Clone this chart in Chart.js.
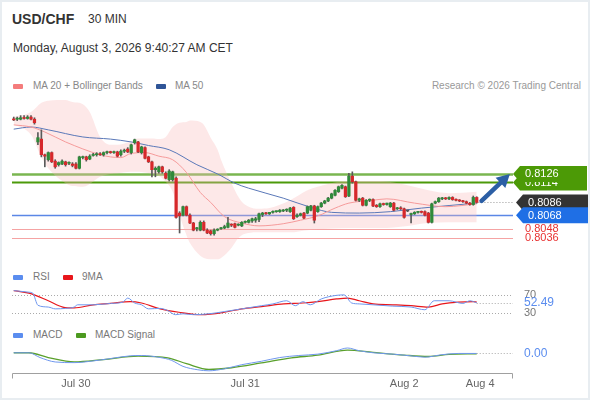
<!DOCTYPE html>
<html>
<head>
<meta charset="utf-8">
<script src="https://cdn.jsdelivr.net/npm/chart.js@4.4.1/dist/chart.umd.min.js"></script>
<style>
  html, body { margin: 0; padding: 0; background: #fff; }
  body { width: 590px; height: 400px; position: relative; overflow: hidden; font-family: "Liberation Sans", Arial, sans-serif; }
  .t { position: absolute; white-space: nowrap; line-height: 1; }
  .box { position: absolute; width: 10px; height: 5px; border-radius: 1px; }
  canvas { position: absolute; left: 0; }
  #frame { position: absolute; left: 0; top: 0; width: 586px; height: 396px; border: 2px solid #e8edf1; pointer-events: none; }
</style>
</head>
<body>
<div class="t" style="left:12px;top:12px;font-size:14px;font-weight:bold;color:#333">USD/CHF</div>
<div class="t" style="left:88px;top:13px;font-size:12px;color:#333">30 MIN</div>
<div class="t" style="left:13px;top:42px;font-size:12px;color:#333">Monday, August 3, 2026 9:40:27 AM CET</div>

<div class="box" style="left:13px;top:84px;background:#f47c7c"></div>
<div class="t" style="left:33px;top:81px;font-size:10px;color:#888">MA 20 + Bollinger Bands</div>
<div class="box" style="left:156px;top:84px;background:#2f5597"></div>
<div class="t" style="left:175px;top:81px;font-size:10px;color:#888">MA 50</div>
<div class="t" style="right:9px;top:81px;font-size:10px;color:#999">Research © 2026 Trading Central</div>

<div class="box" style="left:13px;top:275px;background:#5b8def"></div>
<div class="t" style="left:33px;top:272px;font-size:10px;color:#777">RSI</div>
<div class="box" style="left:63px;top:275px;background:#e8161b"></div>
<div class="t" style="left:82px;top:272px;font-size:10px;color:#777">9MA</div>

<div class="box" style="left:13px;top:333px;background:#5b8def"></div>
<div class="t" style="left:33px;top:330px;font-size:10px;color:#777">MACD</div>
<div class="box" style="left:76px;top:333px;background:#4c9a1f"></div>
<div class="t" style="left:95px;top:330px;font-size:10px;color:#777">MACD Signal</div>

<canvas id="price" width="590" height="170" style="top:95px"></canvas>
<canvas id="rsi" width="590" height="36" style="top:285px"></canvas>
<canvas id="macd" width="590" height="55" style="top:340px"></canvas>
<div id="frame"></div>

<script>
// 30 min candles, index 0 = first bar on the left
const candleOpen = [
  0.8203,0.8203,0.8203,0.8205,0.8204,0.8206,0.8203,0.8171,0.8175,0.8153,
  0.8146,0.8156,0.8144,0.8139,0.8140,0.8143,0.8141,0.8140,0.8140,0.8134,
  0.8149,0.8150,0.8147,0.8152,0.8153,0.8154,0.8153,0.8156,0.8157,0.8156,
  0.8157,0.8153,0.8158,0.8161,0.8156,0.8170,0.8171,0.8156,0.8163,0.8150,
  0.8143,0.8132,0.8129,0.8136,0.8127,0.8118,0.8118,0.8120,0.8071,0.8068,
  0.8080,0.8068,0.8057,0.8049,0.8047,0.8058,0.8047,0.8046,0.8042,0.8047,
  0.8049,0.8050,0.8051,0.8055,0.8056,0.8054,0.8053,0.8058,0.8058,0.8060,
  0.8061,0.8062,0.8069,0.8071,0.8070,0.8072,0.8073,0.8073,0.8074,0.8075,
  0.8073,0.8079,0.8066,0.8068,0.8071,0.8071,0.8075,0.8081,0.8073,0.8080,
  0.8085,0.8088,0.8092,0.8096,0.8101,0.8106,0.8108,0.8095,0.8123,0.8115,
  0.8089,0.8092,0.8082,0.8089,0.8090,0.8082,0.8080,0.8084,0.8083,0.8080,
  0.8085,0.8077,0.8078,0.8077,0.8074,0.8069,0.8070,0.8072,0.8073,0.8073,
  0.8071,0.8058,0.8085,0.8087,0.8091,0.8092,0.8091,0.8093,0.8090,0.8089,
  0.8088,0.8087,0.8085,0.8083,0.8093
];
const candleHigh = [
  0.8206,0.8206,0.8208,0.8208,0.8208,0.8208,0.8205,0.8184,0.8188,0.8154,
  0.8157,0.8157,0.8146,0.8143,0.8146,0.8144,0.8143,0.8142,0.8142,0.8151,
  0.8151,0.8151,0.8153,0.8155,0.8156,0.8156,0.8157,0.8158,0.8158,0.8158,
  0.8158,0.8160,0.8161,0.8163,0.8168,0.8175,0.8172,0.8165,0.8164,0.8151,
  0.8144,0.8136,0.8137,0.8137,0.8129,0.8132,0.8130,0.8122,0.8073,0.8081,
  0.8081,0.8070,0.8058,0.8051,0.8060,0.8060,0.8049,0.8047,0.8049,0.8049,
  0.8051,0.8054,0.8065,0.8056,0.8057,0.8056,0.8059,0.8060,0.8062,0.8064,
  0.8065,0.8071,0.8072,0.8072,0.8072,0.8074,0.8074,0.8076,0.8076,0.8077,
  0.8079,0.8080,0.8070,0.8071,0.8072,0.8081,0.8082,0.8082,0.8081,0.8086,
  0.8089,0.8093,0.8099,0.8104,0.8109,0.8111,0.8109,0.8127,0.8129,0.8116,
  0.8092,0.8093,0.8090,0.8091,0.8091,0.8083,0.8085,0.8085,0.8085,0.8086,
  0.8086,0.8079,0.8080,0.8078,0.8075,0.8071,0.8073,0.8073,0.8074,0.8074,
  0.8072,0.8085,0.8088,0.8093,0.8093,0.8093,0.8094,0.8094,0.8091,0.8090,
  0.8089,0.8088,0.8086,0.8095,0.8094
];
const candleLow = [
  0.8201,0.8201,0.8202,0.8203,0.8203,0.8202,0.8196,0.8167,0.8150,0.8136,
  0.8144,0.8142,0.8134,0.8137,0.8139,0.8137,0.8139,0.8136,0.8133,0.8133,
  0.8147,0.8144,0.8146,0.8151,0.8151,0.8152,0.8151,0.8154,0.8155,0.8155,
  0.8150,0.8151,0.8156,0.8156,0.8154,0.8168,0.8156,0.8154,0.8147,0.8142,
  0.8122,0.8122,0.8127,0.8127,0.8119,0.8116,0.8116,0.8064,0.8043,0.8067,
  0.8067,0.8056,0.8046,0.8046,0.8046,0.8046,0.8042,0.8040,0.8040,0.8046,
  0.8048,0.8049,0.8050,0.8052,0.8050,0.8053,0.8052,0.8057,0.8057,0.8058,
  0.8058,0.8059,0.8066,0.8069,0.8069,0.8071,0.8072,0.8072,0.8073,0.8073,
  0.8072,0.8062,0.8065,0.8067,0.8063,0.8070,0.8074,0.8057,0.8072,0.8079,
  0.8084,0.8087,0.8091,0.8095,0.8100,0.8105,0.8093,0.8094,0.8113,0.8088,
  0.8087,0.8081,0.8081,0.8087,0.8080,0.8079,0.8079,0.8082,0.8082,0.8079,
  0.8074,0.8076,0.8076,0.8064,0.8073,0.8057,0.8069,0.8071,0.8071,0.8067,
  0.8057,0.8057,0.8084,0.8086,0.8090,0.8090,0.8090,0.8089,0.8088,0.8087,
  0.8086,0.8084,0.8082,0.8082,0.8085
];
const candleClose = [
  0.8202,0.8204,0.8205,0.8204,0.8206,0.8203,0.8198,0.8177,0.8153,0.8151,
  0.8156,0.8143,0.8136,0.8142,0.8144,0.8139,0.8142,0.8138,0.8134,0.8150,
  0.8150,0.8146,0.8151,0.8153,0.8154,0.8153,0.8156,0.8157,0.8156,0.8157,
  0.8151,0.8158,0.8159,0.8157,0.8167,0.8174,0.8157,0.8164,0.8148,0.8143,
  0.8132,0.8134,0.8136,0.8129,0.8120,0.8130,0.8129,0.8065,0.8067,0.8080,
  0.8068,0.8057,0.8047,0.8050,0.8058,0.8047,0.8043,0.8042,0.8047,0.8048,
  0.8050,0.8052,0.8057,0.8054,0.8051,0.8055,0.8058,0.8059,0.8061,0.8063,
  0.8063,0.8070,0.8071,0.8070,0.8072,0.8073,0.8074,0.8075,0.8075,0.8076,
  0.8078,0.8063,0.8068,0.8070,0.8064,0.8080,0.8081,0.8061,0.8080,0.8085,
  0.8088,0.8092,0.8098,0.8103,0.8108,0.8110,0.8094,0.8123,0.8115,0.8089,
  0.8091,0.8082,0.8089,0.8090,0.8081,0.8080,0.8084,0.8083,0.8085,0.8085,
  0.8075,0.8078,0.8077,0.8065,0.8074,0.8070,0.8072,0.8073,0.8072,0.8068,
  0.8058,0.8084,0.8087,0.8092,0.8092,0.8091,0.8093,0.8090,0.8089,0.8088,
  0.8087,0.8085,0.8083,0.8093,0.8086
];

// moving averages and Bollinger band, sampled at bar indices
const ma20X = [0,5,9,15,25,28,31,34,38,42,46,50,54,57,61,66,71,78,83,88,93,97,104,108,116,125,134];
const ma20Y = [0.8195,0.8192,0.8185,0.8171,0.8153,0.8150,0.8149,0.8155,0.8156,0.8151,0.8146,0.8128,0.8100,0.8086,0.8066,0.8057,0.8053,0.8056,0.8061,0.8067,0.8078,0.8085,0.8089,0.8091,0.8085,0.8080,0.8084];
const ma50X = [0,5,10,20,28,34,39,45,53,59,64,68,78,86,92,100,109,118,134];
const ma50Y = [0.8189,0.8192,0.8188,0.8178,0.8175,0.8171,0.8166,0.8160,0.8139,0.8126,0.8113,0.8106,0.8092,0.8079,0.8072,0.8071,0.8073,0.8078,0.8085];
const bbX = [0,5,8,10,15,17,20,22,25,28,30,34,36,40,42,44,46,48,50,51,54,55,57,59,60,63,65,66,68,71,74,80,85,91,97,106,114,120,126,134];
const bbUpper = [0.8206,0.8213,0.8226,0.8229,0.8230,0.8227,0.8224,0.8213,0.8178,0.8167,0.8167,0.8172,0.8176,0.8176,0.8175,0.8178,0.8192,0.8198,0.8199,0.8201,0.8199,0.8195,0.8177,0.8160,0.8146,0.8113,0.8094,0.8087,0.8080,0.8077,0.8078,0.8089,0.8103,0.8112,0.8116,0.8116,0.8110,0.8103,0.8099,0.8101];
const bbLower = [0.8196,0.8181,0.8150,0.8134,0.8113,0.8109,0.8108,0.8112,0.8122,0.8126,0.8127,0.8129,0.8129,0.8126,0.8123,0.8115,0.8101,0.8068,0.8040,0.8029,0.8011,0.8008,0.8006,0.8006,0.8008,0.8022,0.8036,0.8040,0.8043,0.8044,0.8044,0.8044,0.8047,0.8049,0.8050,0.8050,0.8053,0.8057,0.8058,0.8058];

// support / resistance levels
const levelValues = [0.8126, 0.8114, 0.8068, 0.8048, 0.8036];
const levelColors = ['#7ab650', '#4c9a0a', '#5b87e6', '#f5a3a3', '#f5a3a3'];
const levelWidths = [2.5, 2, 1.5, 1, 1];
const lastPrice = 0.8086;
const arrowFrom = [135.4, 0.8088];
const arrowTo = [143.6, 0.8126];

// RSI panel
const rsiX = [0,4.4,5.5,7,10,12,15,17.5,18.5,23,28,31.6,33,35,37,39,42.4,44.6,46.8,49,52,56.5,61,66,71.7,75,79,81.5,83.7,85.8,89,93.4,95.6,97.8,100,104,109.7,115,119,121.7,126,130,132,134];
const rsiY = [79.6,76,74,47,43,39,40,43,48,48,51,54,63,52,48,39,40,35,26,28,26,28,33,39,46,50,57,46,55,48,61,69,70,52,50,48,45,43,37,57,57,51,57,52.49];
const rsiMaX = [0,4.4,10,14.2,17.5,23,28,33.7,37,42.4,47.8,54.3,61,66,71.7,78.2,83.7,88,93.4,96.6,100,104,109.7,115,120,124,128.7,133,134];
const rsiMaY = [79.6,74,57,43,41,48,51,55,52,39,31.5,26,31.5,39,44,50,52,55,61,63,57,50,48,46,43,50,54,55,54];
const rsiGuides = [70, 30];
const rsiLast = 52.49;

// MACD panel
const macdX = [0,4.4,7.6,12,17.5,23,28,33.7,37,42.4,45.6,49,53.3,56.5,61,66,71.7,77,82.5,88,93.4,96.6,100,104,109.7,115,119,123.7,128.7,134];
const macdY = [0.00004,0.00004,-0.00024,-0.0005,-0.00054,-0.00044,-0.0003,-0.00014,-0.00012,-0.00024,-0.0004,-0.00076,-0.00096,-0.00102,-0.0009,-0.00066,-0.00046,-0.00024,-0.00012,-0.00004,0.00016,0.00032,0.00016,0.00004,-0.00004,-0.00014,-0.00022,-0.00008,0,0];
const signalX = [0,4.4,10,17.5,26,36,44.6,50,56.5,63,71.7,80.4,88,96.6,104,113,120,126,134];
const signalY = [0.00004,0.00004,-0.00024,-0.0005,-0.00036,-0.00016,-0.00026,-0.0006,-0.00094,-0.00084,-0.00056,-0.00026,-0.0001,0.0002,0.00006,-0.0001,-0.00018,-0.00006,-0.00002];
const macdLast = 0;

// time axis
const tickIdx = [18, 67, 113, 135];
const tickLabels = ['Jul 30', 'Jul 31', 'Aug 2', 'Aug 4'];

const xMin = -0.5, xMax = 144.5;
const FONT = '"Liberation Sans", Arial, sans-serif';

const pts = (xs, ys) => xs.map((x, i) => ({ x: x, y: ys[i] }));

function baseOptions(yMin, yMax, padBottom) {
    return {
        responsive: false,
        animation: false,
        events: [],
        layout: { padding: { left: 12, right: 77, top: 0, bottom: padBottom || 0 } },
        plugins: { legend: { display: false }, tooltip: { enabled: false } },
        scales: {
            x: { type: 'linear', min: xMin, max: xMax, display: false, offset: false },
            y: { min: yMin, max: yMax, display: false }
        }
    };
}

function lineSet(xs, ys, color, width, extra) {
    return Object.assign({
        type: 'line',
        data: pts(xs, ys),
        borderColor: color,
        borderWidth: width,
        pointRadius: 0,
        tension: 0.35,
        cubicInterpolationMode: 'monotone',
        fill: false
    }, extra || {});
}

function dotted(ctx, x1, x2, y, color) {
    ctx.save();
    ctx.strokeStyle = color;
    ctx.lineWidth = 1;
    ctx.setLineDash([1, 2]);
    ctx.beginPath();
    ctx.moveTo(x1, y);
    ctx.lineTo(x2, y);
    ctx.stroke();
    ctx.restore();
}

function tag(ctx, x, yc, color, text) {
    const h = 16, w = 74;
    ctx.fillStyle = color;
    ctx.beginPath();
    ctx.moveTo(x, yc);
    ctx.lineTo(x + 7, yc - h / 2);
    ctx.lineTo(x + w, yc - h / 2);
    ctx.lineTo(x + w, yc + h / 2);
    ctx.lineTo(x + 7, yc + h / 2);
    ctx.closePath();
    ctx.fill();
    ctx.fillStyle = '#fff';
    ctx.fillText(text, x + 12, yc + 0.5);
}

const pricePlugin = {
    id: 'priceLevels',
    beforeDatasetsDraw(chart) {
        const { ctx, chartArea: a, scales: { y } } = chart;
        ctx.save();
        levelValues.forEach((v, i) => {
            const py = Math.round(y.getPixelForValue(v)) + 0.5;
            ctx.strokeStyle = levelColors[i];
            ctx.lineWidth = levelWidths[i];
            ctx.beginPath();
            ctx.moveTo(a.left, py);
            ctx.lineTo(a.right, py);
            ctx.stroke();
        });
        ctx.restore();
    },
    afterDraw(chart) {
        const { ctx, chartArea: a, scales: { x, y } } = chart;
        const lastX = x.getPixelForValue(candleClose.length - 0.5);
        dotted(ctx, lastX, a.right, Math.round(y.getPixelForValue(lastPrice)) + 0.5, '#999');

        // trend arrow
        const x0 = x.getPixelForValue(arrowFrom[0]), y0 = y.getPixelForValue(arrowFrom[1]);
        const x1 = x.getPixelForValue(arrowTo[0]), y1 = y.getPixelForValue(arrowTo[1]);
        const ang = Math.atan2(y1 - y0, x1 - x0);
        const c = Math.cos(ang), s = Math.sin(ang);
        ctx.save();
        ctx.strokeStyle = '#2c5fa5';
        ctx.fillStyle = '#2c5fa5';
        ctx.lineWidth = 4.5;
        ctx.lineCap = 'round';
        ctx.beginPath();
        ctx.moveTo(x0, y0);
        ctx.lineTo(x1 - 9 * c, y1 - 9 * s);
        ctx.stroke();
        ctx.beginPath();
        ctx.moveTo(x1, y1);
        ctx.lineTo(x1 - 13 * c + 7 * s, y1 - 13 * s - 7 * c);
        ctx.lineTo(x1 - 13 * c - 7 * s, y1 - 13 * s + 7 * c);
        ctx.closePath();
        ctx.fill();
        ctx.restore();

        // price tags on the right
        ctx.save();
        ctx.font = '11px ' + FONT;
        ctx.textBaseline = 'middle';
        ctx.textAlign = 'left';
        const tx = a.right;
        ctx.fillStyle = '#e83030';
        ctx.fillText(levelValues[3].toFixed(4), tx + 12, y.getPixelForValue(levelValues[3]));
        ctx.fillText(levelValues[4].toFixed(4), tx + 12, y.getPixelForValue(levelValues[4]));
        tag(ctx, tx, y.getPixelForValue(levelValues[1]), '#4c9a06', levelValues[1].toFixed(4));
        tag(ctx, tx, y.getPixelForValue(levelValues[0]), '#4c9a06', levelValues[0].toFixed(4));
        tag(ctx, tx + 3, y.getPixelForValue(lastPrice), '#333333', lastPrice.toFixed(4));
        tag(ctx, tx + 3, y.getPixelForValue(levelValues[2]), '#1f6fe5', levelValues[2].toFixed(4));
        ctx.restore();
    }
};

const candleIdx = candleOpen.map((_, i) => i);
const bodyColors = candleIdx.map(i => candleClose[i] > candleOpen[i] ? '#2f8a3a' : (candleClose[i] < candleOpen[i] ? '#d6282b' : '#555'));

new Chart(document.getElementById('price'), {
    type: 'bar',
    data: {
        datasets: [
            lineSet(bbX, bbUpper, 'rgba(0,0,0,0)', 0, { fill: '+1', backgroundColor: 'rgba(250,185,185,0.33)', order: 10 }),
            lineSet(bbX, bbLower, 'rgba(0,0,0,0)', 0, { order: 10 }),
            lineSet(ma20X, ma20Y, '#f59a9a', 1, { order: 5 }),
            lineSet(ma50X, ma50Y, '#5a78b8', 1, { order: 5 }),
            {
                type: 'bar',
                data: candleIdx.map(i => ({ x: i, y: [candleLow[i], candleHigh[i]] })),
                backgroundColor: '#5a5a5a',
                barThickness: 1,
                grouped: false,
                order: 2
            },
            {
                type: 'bar',
                data: candleIdx.map(i => ({ x: i, y: [candleOpen[i], candleClose[i]] })),
                backgroundColor: bodyColors,
                barThickness: 2.6,
                minBarLength: 1,
                grouped: false,
                order: 1
            }
        ]
    },
    options: baseOptions(0.7998, 0.8237),
    plugins: [pricePlugin]
});

const rsiPlugin = {
    id: 'rsiGuides',
    beforeDatasetsDraw(chart) {
        const { ctx, chartArea: a, scales: { y } } = chart;
        rsiGuides.forEach(v => dotted(ctx, a.left, a.right, Math.round(y.getPixelForValue(v)) + 0.5, '#aaa'));
    },
    afterDraw(chart) {
        const { ctx, chartArea: a, scales: { x, y } } = chart;
        dotted(ctx, x.getPixelForValue(rsiX[rsiX.length - 1]), a.right, Math.round(y.getPixelForValue(rsiLast)) + 0.5, '#aaa');
        ctx.save();
        ctx.font = '11px ' + FONT;
        ctx.textBaseline = 'middle';
        ctx.fillStyle = '#777';
        rsiGuides.forEach(v => ctx.fillText(String(v), a.right + 11, y.getPixelForValue(v)));
        ctx.font = '12px ' + FONT;
        ctx.fillStyle = '#5b8def';
        ctx.fillText(rsiLast.toFixed(2), a.right + 11, y.getPixelForValue(rsiLast));
        ctx.restore();
    }
};

new Chart(document.getElementById('rsi'), {
    type: 'line',
    data: {
        datasets: [
            lineSet(rsiMaX, rsiMaY, '#e8161b', 1.2, { order: 2 }),
            lineSet(rsiX, rsiY, '#6f97ee', 1, { tension: 0, order: 1 })
        ]
    },
    options: baseOptions(12, 92),
    plugins: [rsiPlugin]
});

const macdPlugin = {
    id: 'macdAxis',
    afterDraw(chart) {
        const { ctx, chartArea: a, scales: { x, y } } = chart;
        dotted(ctx, x.getPixelForValue(macdX[macdX.length - 1]), a.right, Math.round(y.getPixelForValue(macdLast)) + 0.5, '#aaa');
        ctx.save();
        ctx.font = '12px ' + FONT;
        ctx.textBaseline = 'middle';
        ctx.fillStyle = '#5b8def';
        ctx.fillText(macdLast.toFixed(2), a.right + 11, y.getPixelForValue(macdLast));

        // time axis
        const ay = Math.round(a.bottom) + 1.5;
        ctx.strokeStyle = '#a0a0a0';
        ctx.lineWidth = 1;
        ctx.beginPath();
        ctx.moveTo(a.left + 0.5, ay + 5);
        ctx.lineTo(a.left + 0.5, ay);
        ctx.lineTo(a.right - 0.5, ay);
        ctx.lineTo(a.right - 0.5, ay + 5);
        ctx.stroke();
        ctx.font = '11px ' + FONT;
        ctx.fillStyle = '#666';
        ctx.textAlign = 'center';
        tickIdx.forEach((t, i) => ctx.fillText(tickLabels[i], x.getPixelForValue(t), ay + 10));
        ctx.restore();
    }
};

new Chart(document.getElementById('macd'), {
    type: 'line',
    data: {
        datasets: [
            lineSet(signalX, signalY, '#5aa02c', 1.3, { order: 2 }),
            lineSet(macdX, macdY, '#6f97ee', 1, { order: 1 })
        ]
    },
    options: baseOptions(-0.00109, 0.00079, 23),
    plugins: [macdPlugin]
});
</script>
</body>
</html>
